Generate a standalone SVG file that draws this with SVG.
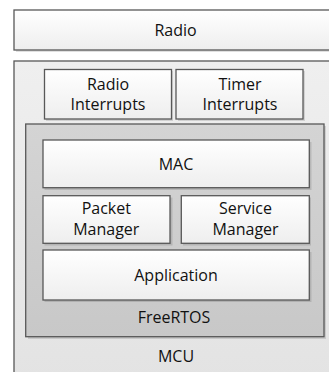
<svg xmlns="http://www.w3.org/2000/svg" width="329" height="372" viewBox="0 0 329 372">
<defs>
<linearGradient id="gW" x1="0" y1="0" x2="0" y2="1"><stop offset="0" stop-color="#ffffff"/><stop offset="1" stop-color="#eeeeee"/></linearGradient>
<linearGradient id="gM" x1="0" y1="0" x2="0" y2="1"><stop offset="0" stop-color="#efefef"/><stop offset="1" stop-color="#e3e3e3"/></linearGradient>
<linearGradient id="gF" x1="0" y1="0" x2="0" y2="1"><stop offset="0" stop-color="#d4d4d4"/><stop offset="1" stop-color="#c8c8c8"/></linearGradient>
</defs>
<style>
.b{stroke:#585858;stroke-width:1.3}
.w{fill:url(#gW)}
.sh{fill:#000;opacity:0.12}
text{font-family:"Open Sans","Noto Sans","Liberation Sans",sans-serif;font-size:16px;fill:#111;text-anchor:middle}
</style>
<rect width="329" height="372" fill="#ffffff"/>
<g id="radio">
<rect class="sh" x="16" y="12" width="320" height="40"/>
<rect class="b w" x="14" y="10" width="320" height="40"/>
<text x="175.5" y="36">Radio</text>
</g>
<g id="mcu">
<rect class="sh" x="16" y="63" width="320" height="320"/>
<rect class="b" fill="url(#gM)" x="14" y="61" width="320" height="320"/>
<text x="176" y="361.5">MCU</text>
</g>
<g id="radio-interrupts">
<rect class="sh" x="46" y="71" width="127" height="50"/>
<rect class="b w" x="44.5" y="69.5" width="127" height="49.5"/>
<text x="108" y="90">Radio</text>
<text x="108" y="110">Interrupts</text>
</g>
<g id="timer-interrupts">
<rect class="sh" x="178" y="71" width="127" height="50"/>
<rect class="b w" x="176" y="69.5" width="127" height="49.5"/>
<text x="240" y="90">Timer</text>
<text x="240" y="110">Interrupts</text>
</g>
<g id="freertos">
<rect class="sh" x="28" y="126" width="298" height="213"/>
<rect class="b" fill="url(#gF)" x="25.7" y="124" width="298.3" height="212.7"/>
<text x="174" y="323.3">FreeRTOS</text>
</g>
<g id="mac">
<rect class="sh" x="44.5" y="142" width="267" height="48"/>
<rect class="b w" x="43" y="140" width="266.3" height="47.7"/>
<text x="176" y="170">MAC</text>
</g>
<g id="packet-manager">
<rect class="sh" x="44.5" y="197.5" width="128" height="48"/>
<rect class="b w" x="43" y="195.7" width="127" height="47.6"/>
<text x="106.3" y="214.3">Packet</text>
<text x="106.3" y="235">Manager</text>
</g>
<g id="service-manager">
<rect class="sh" x="183" y="197.5" width="128" height="48"/>
<rect class="b w" x="181.3" y="195.7" width="128" height="47.6"/>
<text x="245.5" y="214.3">Service</text>
<text x="245.5" y="235">Manager</text>
</g>
<g id="application">
<rect class="sh" x="44.5" y="252" width="267" height="50"/>
<rect class="b w" x="43" y="250" width="266.3" height="50"/>
<text x="176" y="281">Application</text>
</g>
<g id="connectors"/>
</svg>
